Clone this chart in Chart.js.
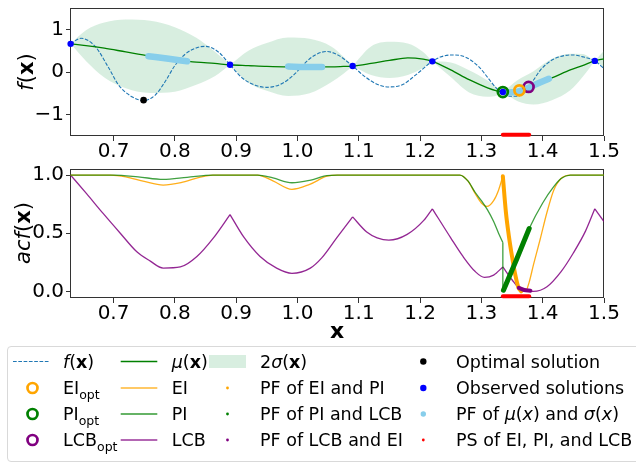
<!DOCTYPE html>
<html>
<head>
<meta charset="utf-8">
<script src="https://cdn.jsdelivr.net/npm/chart.js@4.4.1/dist/chart.umd.min.js"></script>
<style>
  body { margin: 0; background: #fff; font-family: "DejaVu Sans", sans-serif; }
  #wrap { position: relative; width: 636px; height: 464px; overflow: hidden; }
  canvas { position: absolute; left: 0; }
  .ytitle { position: absolute; font-size: 21px; line-height: 21px; white-space: nowrap; transform: translate(-50%, -50%) rotate(-90deg); }
  #legendBox { position: absolute; left: 7px; top: 346px; width: 660px; height: 116px; border: 1px solid #d9d9d9; border-radius: 4px; box-sizing: border-box; }
  .lg { position: absolute; font-size: 17.5px; line-height: 20px; white-space: nowrap; transform: translateY(-50%); }
  .lg sub { font-size: 12.5px; vertical-align: -5px; line-height: 0; }
  svg { position: absolute; left: 0; top: 0; }
</style>
</head>
<body>
<div id="wrap">
  <canvas id="topChart" width="636" height="160" style="top:0"></canvas>
  <canvas id="botChart" width="636" height="185" style="top:160px"></canvas>
  <div class="ytitle" style="left:26px;top:71.5px"><i>f</i>(<b>x</b>)</div>
  <div class="ytitle" style="left:22.5px;top:233px"><i>acf</i>(<b>x</b>)</div>

  <div id="legendBox"></div>
  <svg width="636" height="464">
    <line x1="13" y1="361.5" x2="50" y2="361.5" stroke="#1f77b4" stroke-width="1.2" stroke-dasharray="3.7 1.6"/>
    <circle cx="32.5" cy="388" r="5" fill="none" stroke="orange" stroke-width="2.7"/>
    <circle cx="32.5" cy="414" r="5" fill="none" stroke="green" stroke-width="2.7"/>
    <circle cx="32.5" cy="440" r="5" fill="none" stroke="purple" stroke-width="2.7"/>
    <line x1="120.7" y1="361.5" x2="157.3" y2="361.5" stroke="green" stroke-width="1.3"/>
    <line x1="120.7" y1="388" x2="157.3" y2="388" stroke="rgba(255,165,0,0.6)" stroke-width="2"/>
    <line x1="120.7" y1="414" x2="157.3" y2="414" stroke="rgba(0,128,0,0.6)" stroke-width="2"/>
    <line x1="120.7" y1="440" x2="157.3" y2="440" stroke="rgba(128,0,128,0.6)" stroke-width="2"/>
    <rect x="209" y="355" width="37" height="13" fill="rgba(60,170,100,0.2)"/>
    <circle cx="227.5" cy="388" r="1.4" fill="orange"/>
    <circle cx="227.5" cy="414" r="1.4" fill="green"/>
    <circle cx="227.5" cy="440" r="1.4" fill="purple"/>
    <circle cx="423.3" cy="361.5" r="3.2" fill="black"/>
    <circle cx="423.3" cy="388" r="3.2" fill="blue"/>
    <circle cx="423.3" cy="414" r="2.7" fill="#87ceeb"/>
    <circle cx="423.3" cy="440" r="1.4" fill="red"/>
  </svg>
  <div class="lg" style="left:63px;top:361.5px"><i>f</i>(<b>x</b>)</div>
  <div class="lg" style="left:63px;top:388px">EI<sub>opt</sub></div>
  <div class="lg" style="left:63px;top:414px">PI<sub>opt</sub></div>
  <div class="lg" style="left:63px;top:440px">LCB<sub>opt</sub></div>
  <div class="lg" style="left:171.7px;top:361.5px"><i>μ</i>(<b>x</b>)</div>
  <div class="lg" style="left:171.7px;top:388px">EI</div>
  <div class="lg" style="left:171.7px;top:414px">PI</div>
  <div class="lg" style="left:171.7px;top:440px">LCB</div>
  <div class="lg" style="left:260px;top:361.5px">2<i>σ</i>(<b>x</b>)</div>
  <div class="lg" style="left:260px;top:388px">PF of EI and PI</div>
  <div class="lg" style="left:260px;top:414px">PF of PI and LCB</div>
  <div class="lg" style="left:260px;top:440px">PF of LCB and EI</div>
  <div class="lg" style="left:456px;top:361.5px">Optimal solution</div>
  <div class="lg" style="left:456px;top:388px">Observed solutions</div>
  <div class="lg" style="left:456px;top:414px">PF of <i>μ</i>(<i>x</i>) and <i>σ</i>(<i>x</i>)</div>
  <div class="lg" style="left:456px;top:440px">PS of EI, PI, and LCB</div>
</div>

<script>
// === Ticks ===
const xTicks = [0.7, 0.8, 0.9, 1.0, 1.1, 1.2, 1.3, 1.4, 1.5];
const fTicks = [-1, 0, 1];
const acfTicks = [0, 0.5, 1];

// === Objective f(x) ===
const fX = [0.63, 0.647, 0.67, 0.692, 0.708, 0.73, 0.749, 0.768, 0.784, 0.80, 0.817, 0.838, 0.85, 0.871, 0.89,
  0.91, 0.931, 0.95, 0.975, 0.996, 1.013, 1.029, 1.048, 1.067, 1.09, 1.111, 1.132, 1.149, 1.171, 1.192, 1.22,
  1.233, 1.252, 1.274, 1.296, 1.312, 1.326, 1.335, 1.347, 1.358, 1.369, 1.383, 1.396, 1.41, 1.426, 1.448,
  1.467, 1.485, 1.5];
const fY = [0.66, 0.79, 0.60, 0.10, -0.30, -0.58, -0.67, -0.54, -0.23, 0.15, 0.42, 0.58, 0.60, 0.47, 0.17,
  -0.14, -0.31, -0.36, -0.27, -0.04, 0.22, 0.40, 0.48, 0.39, 0.14, -0.12, -0.30, -0.35, -0.30, -0.08, 0.25,
  0.35, 0.40, 0.35, 0.12, -0.16, -0.40, -0.48, -0.57, -0.57, -0.47, -0.23, 0.04, 0.23, 0.35, 0.40,
  0.35, 0.26, 0.08];

// === GP mean and 2 sigma band ===
const gpX = [0.63, 0.655, 0.685, 0.72, 0.76, 0.80, 0.835, 0.865, 0.89, 0.92, 0.95, 0.985, 1.02, 1.055, 1.075,
  1.09, 1.12, 1.15, 1.18, 1.205, 1.22, 1.25, 1.28, 1.31, 1.325, 1.335, 1.36, 1.385, 1.415, 1.445, 1.465, 1.485, 1.5];
const muY = [0.66, 0.62, 0.56, 0.47, 0.37, 0.29, 0.23, 0.20, 0.17, 0.15, 0.13, 0.12, 0.12, 0.12, 0.13,
  0.14, 0.20, 0.27, 0.33, 0.30, 0.25, 0.05, -0.18, -0.37, -0.44, -0.47, -0.45, -0.30, -0.14, 0.05, 0.15, 0.26, 0.31];
const bandUp = [0.66, 0.98, 1.16, 1.23, 1.20, 1.05, 0.80, 0.48, 0.17, 0.50, 0.68, 0.81, 0.78, 0.60, 0.36,
  0.14, 0.60, 0.71, 0.67, 0.47, 0.25, 0.22, 0.04, -0.20, -0.36, -0.47, -0.18, 0.02, 0.31, 0.43, 0.42, 0.26, 0.50];
const bandLo = [0.66, 0.26, -0.13, -0.38, -0.49, -0.46, -0.30, -0.10, 0.17, -0.25, -0.44, -0.56, -0.50, -0.24, -0.04,
  0.14, -0.07, -0.14, -0.07, 0.10, 0.25, -0.12, -0.48, -0.58, -0.55, -0.47, -0.69, -0.76, -0.66, -0.43, -0.12, 0.26, 0.12];

// === Points ===
const obsX = [0.63, 0.89, 1.09, 1.22, 1.335, 1.485];
const obsY = [0.66, 0.17, 0.14, 0.25, -0.47, 0.26];
const optX = [0.749];
const optY = [-0.66];
const eiOptX = [1.362], eiOptY = [-0.43];
const piOptX = [1.335], piOptY = [-0.47];
const lcbOptX = [1.377], lcbOptY = [-0.35];

// PF of mu and sigma (three runs along the mean)
const pfMsX = [[0.757, 0.79, 0.82], [0.985, 1.012, 1.04], [1.339, 1.356, 1.372, 1.39, 1.41]];
const pfMsY = [[0.37, 0.31, 0.25], [0.13, 0.12, 0.12], [-0.48, -0.47, -0.40, -0.28, -0.16]];

// PS of EI, PI and LCB
const psX = [1.335, 1.378];
const psTopY = -1.47;
const psBotY = -0.043;

// === Acquisition functions ===
const eiX = [0.63, 0.695, 0.72, 0.75, 0.781, 0.81, 0.84, 0.862, 0.935, 0.96, 0.991, 1.02, 1.048, 1.065, 1.265,
  1.278, 1.29, 1.30, 1.309, 1.32, 1.328, 1.335, 1.34, 1.345, 1.35, 1.355, 1.36, 1.366, 1.372, 1.378, 1.385,
  1.396, 1.407, 1.418, 1.43, 1.445, 1.5];
const eiY = [1.0, 1.0, 0.985, 0.945, 0.914, 0.935, 0.98, 1.0, 1.0, 0.95, 0.877, 0.92, 0.99, 1.0, 1.0,
  0.95, 0.84, 0.76, 0.73, 0.78, 0.87, 0.99, 0.68, 0.47, 0.30, 0.15, 0.04, 0.0, 0.0, 0.08, 0.23,
  0.45, 0.68, 0.87, 0.97, 1.0, 1.0];
const piX = [0.63, 0.70, 0.74, 0.781, 0.82, 0.862, 0.935, 0.96, 0.991, 1.02, 1.048, 1.065, 1.265,
  1.278, 1.29, 1.30, 1.31, 1.32, 1.328, 1.335, 1.335, 1.357, 1.378, 1.40, 1.418, 1.43, 1.445, 1.5];
const piY = [1.0, 1.0, 0.985, 0.962, 0.98, 1.0, 1.0, 0.975, 0.934, 0.955, 0.995, 1.0, 1.0,
  0.95, 0.85, 0.78, 0.70, 0.60, 0.50, 0.42, 0.0, 0.27, 0.54, 0.76, 0.90, 0.97, 1.0, 1.0];
const lcbX = [0.63, 0.656, 0.683, 0.711, 0.738, 0.76, 0.781, 0.809, 0.836, 0.863, 0.89, 0.912, 0.939, 0.966,
  0.991, 1.021, 1.04, 1.064, 1.09, 1.113, 1.13, 1.149, 1.179, 1.206, 1.22, 1.25, 1.27, 1.29, 1.305, 1.32,
  1.335, 1.35, 1.361, 1.375, 1.385, 1.407, 1.43, 1.45, 1.47, 1.485, 1.5];
const lcbY = [1.0, 0.84, 0.67, 0.50, 0.34, 0.26, 0.20, 0.21, 0.30, 0.46, 0.66, 0.47, 0.30, 0.20,
  0.155, 0.20, 0.29, 0.46, 0.64, 0.51, 0.46, 0.44, 0.49, 0.61, 0.71, 0.46, 0.30, 0.17, 0.12, 0.14,
  0.21, 0.10, 0.03, 0.005, 0.0, 0.04, 0.17, 0.33, 0.52, 0.71, 0.60];

// Pareto fronts drawn along the acquisition curves
const pfEiPiX = [1.335, 1.34, 1.345, 1.35, 1.355, 1.36, 1.365];
const pfEiPiY = [0.99, 0.68, 0.47, 0.30, 0.15, 0.04, 0.0];
const pfPiLcbX = [1.336, 1.357, 1.378];
const pfPiLcbY = [0.01, 0.27, 0.54];
const pfLcbEiX = [1.361, 1.37, 1.38];
const pfLcbEiY = [0.03, 0.012, 0.005];

// === Helpers ===
const pts = (xs, ys) => xs.map((x, i) => ({ x, y: ys[i] }));

// split a curve at given x values so kinks stay sharp
function pieces(xs, ys, cuts) {
  const out = [];
  let cur = [];
  xs.forEach((x, i) => {
    cur.push({ x, y: ys[i] });
    if (i > 0 && i < xs.length - 1 && cuts.includes(x)) {
      out.push(cur);
      cur = [{ x, y: ys[i] }];
    }
  });
  out.push(cur);
  return out;
}

function curve(data, color, width, extra) {
  const vertical = data[0].x === data[data.length - 1].x;
  return Object.assign({
    data, borderColor: color, borderWidth: width, pointRadius: 0, fill: false,
    cubicInterpolationMode: vertical ? 'default' : 'monotone', tension: 0
  }, extra || {});
}

function dots(xs, ys, fillColor, r, extra) {
  return Object.assign({
    data: pts(xs, ys), showLine: false, pointRadius: r, pointBackgroundColor: fillColor,
    pointBorderColor: fillColor, pointBorderWidth: 0, clip: false
  }, extra || {});
}

function ring(xs, ys, color, order) {
  return {
    data: pts(xs, ys), showLine: false, pointRadius: 5, pointBackgroundColor: 'rgba(0,0,0,0)',
    pointBorderColor: color, pointBorderWidth: 2.7, clip: false, order
  };
}

const frame = {
  id: 'frame',
  beforeDatasetsDraw(chart) {
    const a = chart.chartArea, g = chart.ctx;
    g.save();
    g.strokeStyle = '#333';
    g.lineWidth = 1;
    g.strokeRect(Math.round(a.left) + 0.5, Math.round(a.top) + 0.5,
      Math.round(a.right - a.left) - 1, Math.round(a.bottom - a.top) - 1);
    g.restore();
  }
};

const tickFont = { family: 'DejaVu Sans', size: 20 };

function xScale(h, withTitle) {
  return {
    type: 'linear', min: 0.629, max: 1.5,
    afterBuildTicks: s => { s.ticks = xTicks.map(v => ({ value: v })); },
    afterFit: s => { s.height = h; s.paddingLeft = 0; s.paddingRight = 0; },
    ticks: { callback: v => v.toFixed(1), color: '#000', font: tickFont, padding: -1, maxRotation: 0, autoSkip: false },
    grid: { drawOnChartArea: false, tickLength: 5, tickColor: '#333' },
    border: { display: false },
    title: withTitle
      ? { display: true, text: 'x', color: '#000', font: { family: 'DejaVu Sans', size: 22, weight: 'bold' }, padding: 0 }
      : { display: false }
  };
}

function yScale(min, max, ticks, fmt) {
  return {
    min, max,
    afterBuildTicks: s => { s.ticks = ticks.map(v => ({ value: v })); },
    // fixed width; drop the label overhang padding so the plot box stays put
    afterFit: s => { s.width = 70; s.paddingTop = 0; s.paddingBottom = 0; },
    ticks: { callback: fmt, color: '#000', font: tickFont, padding: 2, autoSkip: false },
    grid: { drawOnChartArea: false, tickLength: 4, tickColor: '#333' },
    border: { display: false }
  };
}

function baseOptions(padTop, xs, ys) {
  return {
    responsive: false, animation: false, events: [],
    layout: { padding: { top: padTop, right: 32, left: 0, bottom: 0 } },
    plugins: { legend: { display: false }, tooltip: { enabled: false } },
    scales: { x: xs, y: ys }
  };
}

// === Top chart: GP surrogate ===
const topSets = [];
const upPieces = pieces(gpX, bandUp, obsX);
const loPieces = pieces(gpX, bandLo, obsX);
loPieces.forEach((lo, i) => {
  topSets.push(curve(lo, 'rgba(0,0,0,0)', 0, { order: 10 }));
  topSets.push(curve(upPieces[i], 'rgba(0,0,0,0)', 0,
    { order: 10, fill: '-1', backgroundColor: 'rgba(60,170,100,0.2)' }));
});
topSets.push(curve(pts(fX, fY), '#1f77b4', 1.1, { borderDash: [3.7, 1.6], order: 8 }));
topSets.push(curve(pts(gpX, muY), 'green', 1.3, { order: 7 }));
pfMsX.forEach((xs, i) => {
  topSets.push(curve(pts(xs, pfMsY[i]), '#87ceeb', 6.5, { borderCapStyle: 'round', order: 6 }));
});
topSets.push(curve(pts(psX, [psTopY, psTopY]), 'red', 4, { borderCapStyle: 'round', clip: false, order: 5 }));
topSets.push(ring(piOptX, piOptY, 'green', 4));
topSets.push(ring(eiOptX, eiOptY, 'orange', 4));
topSets.push(ring(lcbOptX, lcbOptY, 'purple', 4));
topSets.push(dots(obsX, obsY, 'blue', 3.2, { order: 3 }));
topSets.push(dots(optX, optY, 'black', 3.3, { order: 2 }));

new Chart(document.getElementById('topChart'), {
  type: 'line',
  data: { datasets: topSets },
  options: baseOptions(8, xScale(24, false),
    yScale(-1.5, 1.5, fTicks, v => (v < 0 ? '\u2212' + Math.abs(v) : String(v)))),
  plugins: [frame]
});

// === Bottom chart: acquisition functions ===
const botSets = [];
pieces(lcbX, lcbY, obsX).forEach(p => botSets.push(curve(p, 'rgba(128,0,128,0.85)', 1.3, { order: 9 })));
pieces(eiX, eiY, [1.335]).forEach(p => botSets.push(curve(p, 'rgba(255,165,0,0.9)', 1.3, { order: 8 })));
pieces(piX, piY, [1.335]).forEach(p => botSets.push(curve(p, 'rgba(0,128,0,0.75)', 1.3, { order: 7 })));
botSets.push(curve(pts(pfEiPiX, pfEiPiY), 'orange', 4, { borderCapStyle: 'round', order: 5 }));
botSets.push(curve(pts(pfPiLcbX, pfPiLcbY), 'green', 5, { borderCapStyle: 'round', order: 4 }));
botSets.push(curve(pts(pfLcbEiX, pfLcbEiY), 'purple', 4, { borderCapStyle: 'round', order: 3 }));
botSets.push(curve(pts(psX, [psBotY, psBotY]), 'red', 4, { borderCapStyle: 'round', clip: false, order: 2 }));

new Chart(document.getElementById('botChart'), {
  type: 'line',
  data: { datasets: botSets },
  options: baseOptions(9, xScale(47, true),
    yScale(-0.057, 1.052, acfTicks, v => v.toFixed(1))),
  plugins: [frame]
});
</script>
</body>
</html>
